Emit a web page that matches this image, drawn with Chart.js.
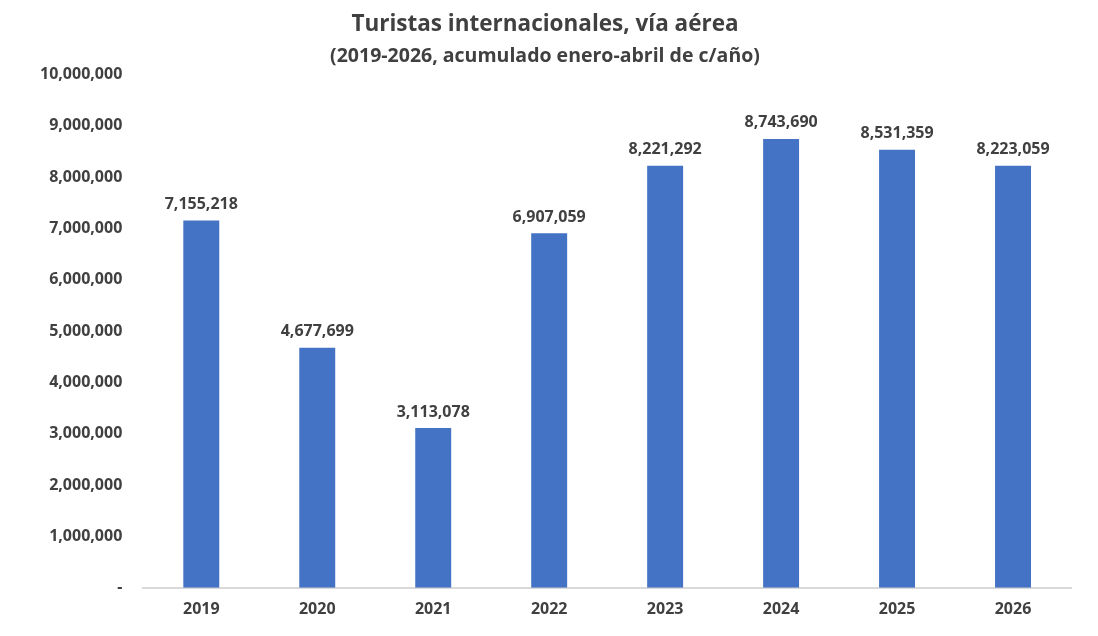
<!DOCTYPE html>
<html lang="es">
<head>
<meta charset="utf-8">
<title>Turistas internacionales, vía aérea</title>
<script src="https://cdn.jsdelivr.net/npm/chart.js@4/dist/chart.umd.min.js"></script>
<style>
  html, body { margin: 0; padding: 0; background: #fff; }
  #wrap { width: 1098px; height: 636px; }
</style>
</head>
<body>
<div id="wrap"><canvas id="chart" width="1098" height="636"></canvas></div>
<script>
'use strict';

const years = ['2019', '2020', '2021', '2022', '2023', '2024', '2025', '2026'];
const tourists = [7155218, 4677699, 3113078, 6907059, 8221292, 8743690, 8531359, 8223059];

const titleText = 'Turistas internacionales, vía aérea';
const subtitleText = '(2019-2026, acumulado enero-abril de c/año)';

const FONT = "'Open Sans', 'DejaVu Sans', sans-serif";
const TEXT = '#404040';

const fmt = (v) => Math.round(v).toLocaleString('en-US');

// value labels sitting above each bar
const barLabels = {
  id: 'barLabels',
  afterDatasetsDraw(chart) {
    const { ctx } = chart;
    const meta = chart.getDatasetMeta(0);
    ctx.save();
    ctx.font = `bold 16px ${FONT}`;
    ctx.fillStyle = TEXT;
    ctx.textAlign = 'center';
    ctx.textBaseline = 'bottom';
    meta.data.forEach((bar, i) => {
      ctx.fillText(fmt(tourists[i]), bar.x, bar.y - 8);
    });
    ctx.restore();
  },
};

new Chart(document.getElementById('chart'), {
  type: 'bar',
  data: {
    labels: years,
    datasets: [
      {
        data: tourists,
        backgroundColor: '#4472C4',
        borderWidth: 0,
        categoryPercentage: 1.0,
        barPercentage: 0.31,
      },
    ],
  },
  options: {
    responsive: false,
    animation: false,
    layout: { padding: { top: 0, right: 27, bottom: 5, left: 19 } },
    plugins: {
      legend: { display: false },
      tooltip: { enabled: false },
      title: {
        display: true,
        text: titleText,
        color: TEXT,
        font: { family: FONT, size: 22.5, weight: 'bold' },
        padding: { top: 11, bottom: 7 },
      },
      subtitle: {
        display: true,
        text: subtitleText,
        color: TEXT,
        font: { family: FONT, size: 19.5, weight: 'bold' },
        padding: { top: 0, bottom: 6 },
      },
    },
    scales: {
      x: {
        grid: { display: false, drawTicks: false },
        border: { display: true, color: '#d9d9d9', width: 2 },
        ticks: {
          color: TEXT,
          font: { family: FONT, size: 16, weight: 'bold' },
          padding: 12,
        },
      },
      y: {
        min: 0,
        max: 10000000,
        grid: { display: false, drawTicks: false },
        border: { display: false },
        ticks: {
          stepSize: 1000000,
          color: TEXT,
          font: { family: FONT, size: 16, weight: 'bold' },
          padding: 21,
          callback: (v) => (v === 0 ? '-' : fmt(v)),
        },
      },
    },
  },
  plugins: [barLabels],
});
</script>
</body>
</html>
